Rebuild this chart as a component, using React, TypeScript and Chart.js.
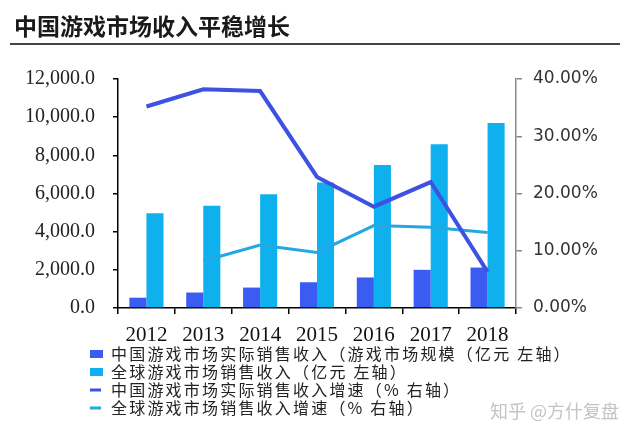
import React, { useEffect, useRef } from "react";
import { Chart, registerables } from "chart.js";

Chart.register(...registerables);

const TITLE = "中国游戏市场收入平稳增长";
const WATERMARK = "知乎 @方什复盘";
const years = ["2012", "2013", "2014", "2015", "2016", "2017", "2018"];
const chinaRevenue = [540, 810, 1070, 1350, 1600, 2000, 2120];
const globalRevenue = [4960, 5360, 5960, 6570, 7490, 8580, 9690];
const chinaGrowth = [35.2, 38.2, 37.9, 22.9, 17.7, 22.0, 6.3];
const globalGrowth = [null, 8.2, 11.0, 9.7, 14.4, 14.1, 13.2];
const seriesNames = [
  "中国游戏市场实际销售收入（游戏市场规模（亿元 左轴）",
  "全球游戏市场销售收入（亿元 左轴）",
  "中国游戏市场实际销售收入增速（% 右轴）",
  "全球游戏市场销售收入增速（% 右轴）",
];
const leftTicks = [0, 2000, 4000, 6000, 8000, 10000, 12000];
const rightTicks = [0, 10, 20, 30, 40];

const C_DARK_BAR = "#3a5cf0";
const C_LIGHT_BAR = "#0eb0ee";
const C_DARK_LINE = "#3d52e2";
const C_LIGHT_LINE = "#22a8e2";

const decorPlugin = {
  id: "decor",
  afterDraw(chart: any) {
    const ctx = chart.ctx as CanvasRenderingContext2D;
    ctx.save();
    // title
    ctx.fillStyle = "#1a1a1a";
    ctx.font = 'bold 23px "Noto Sans CJK SC"';
    ctx.textAlign = "left";
    ctx.textBaseline = "middle";
    ctx.fillText(TITLE, 14, 26);
    ctx.strokeStyle = "#444";
    ctx.lineWidth = 2;
    ctx.beginPath();
    ctx.moveTo(10, 44);
    ctx.lineTo(620, 44);
    ctx.stroke();

    // legend
    const datasets = chart.data.datasets;
    datasets.forEach((ds: any, i: number) => {
      const y = 354 + i * 18;
      if (ds.type === "bar") {
        ctx.fillStyle = ds.backgroundColor;
        ctx.fillRect(90, y - 4, 13, 8);
      } else {
        ctx.strokeStyle = ds.borderColor;
        ctx.lineWidth = 3;
        ctx.beginPath();
        ctx.moveTo(90, y);
        ctx.lineTo(101, y);
        ctx.stroke();
      }
      ctx.fillStyle = "#222";
      ctx.font = '16px "Noto Sans CJK SC"';
      (ctx as any).letterSpacing = "2.2px";
      ctx.textBaseline = "middle";
      ctx.fillText(ds.label, 111, y);
      (ctx as any).letterSpacing = "0px";
    });

    // watermark
    ctx.fillStyle = "#c4c4c4";
    ctx.font = '18px "Noto Sans CJK SC"';
    ctx.textBaseline = "middle";
    ctx.fillText(WATERMARK, 490, 411);
    ctx.restore();
  },
};

function fmtThousands(v: number) {
  return v.toLocaleString("en-US", { minimumFractionDigits: 1, maximumFractionDigits: 1 });
}

export default function App() {
  const ref = useRef<HTMLCanvasElement | null>(null);
  useEffect(() => {
    if (!ref.current) return;
    const chart = new Chart(ref.current, {
      type: "bar",
      data: {
        labels: years,
        datasets: [
          {
            type: "bar",
            label: seriesNames[0],
            data: chinaRevenue,
            backgroundColor: C_DARK_BAR,
            yAxisID: "y",
            order: 2,
            categoryPercentage: 0.6,
            barPercentage: 1.0,
          },
          {
            type: "bar",
            label: seriesNames[1],
            data: globalRevenue,
            backgroundColor: C_LIGHT_BAR,
            yAxisID: "y",
            order: 2,
            categoryPercentage: 0.6,
            barPercentage: 1.0,
          },
          {
            type: "line",
            label: seriesNames[2],
            data: chinaGrowth,
            borderColor: C_DARK_LINE,
            backgroundColor: C_DARK_LINE,
            borderWidth: 4,
            pointRadius: 0,
            tension: 0,
            yAxisID: "y1",
            order: 0,
          },
          {
            type: "line",
            label: seriesNames[3],
            data: globalGrowth as any,
            borderColor: C_LIGHT_LINE,
            backgroundColor: C_LIGHT_LINE,
            borderWidth: 3,
            pointRadius: 0,
            tension: 0,
            yAxisID: "y1",
            order: 1,
          },
        ] as any,
      },
      options: {
        responsive: false,
        animation: false,
        layout: { padding: { top: 79, left: 0, right: 0, bottom: 0 } },
        plugins: {
          legend: { display: false },
          tooltip: { enabled: false },
          title: { display: false },
        },
        scales: {
          x: {
            type: "category",
            offset: true,
            grid: {
              offset: true,
              drawOnChartArea: false,
              tickLength: 6,
              color: "#000",
              lineWidth: 1.5,
            },
            border: { display: true, color: "#000", width: 1.5 },
            ticks: {
              color: "#111",
              font: { family: '"Liberation Serif"', size: 21 },
              padding: 9,
              maxRotation: 0,
              autoSkip: false,
            },
            afterFit: (s: any) => {
              s.height = 129;
            },
          },
          y: {
            type: "linear",
            position: "left",
            min: 0,
            max: 12000,
            afterBuildTicks: (s: any) => {
              s.ticks = leftTicks.map((v) => ({ value: v }));
            },
            grid: {
              drawOnChartArea: false,
              tickLength: 5,
              color: "#000",
              lineWidth: 1.5,
            },
            border: { display: true, color: "#000", width: 1.5 },
            ticks: {
              color: "#222",
              font: { family: '"Liberation Serif"', size: 20 },
              padding: 18,
              callback: (v: any) => fmtThousands(Number(v)),
            },
            afterFit: (s: any) => {
              s.width = 118;
            },
          },
          y1: {
            type: "linear",
            position: "right",
            min: 0,
            max: 40,
            afterBuildTicks: (s: any) => {
              s.ticks = rightTicks.map((v) => ({ value: v }));
            },
            grid: {
              drawOnChartArea: false,
              tickLength: 6,
              color: "#888",
              lineWidth: 1.5,
            },
            border: { display: true, color: "#888", width: 1.5 },
            ticks: {
              color: "#333",
              font: { family: '"DejaVu Sans"', size: 17 },
              padding: 11,
              callback: (v: any) => Number(v).toFixed(2) + "%",
            },
            afterFit: (s: any) => {
              s.width = 124;
            },
          },
        },
      } as any,
      plugins: [decorPlugin],
    });
    return () => chart.destroy();
  }, []);

  return (
    <div
      style={{
        position: "fixed",
        left: 0,
        top: 0,
        width: 640,
        height: 437,
        background: "#fff",
      }}
    >
      <canvas ref={ref} width={640} height={437} style={{ width: 640, height: 437 }} />
    </div>
  );
}
